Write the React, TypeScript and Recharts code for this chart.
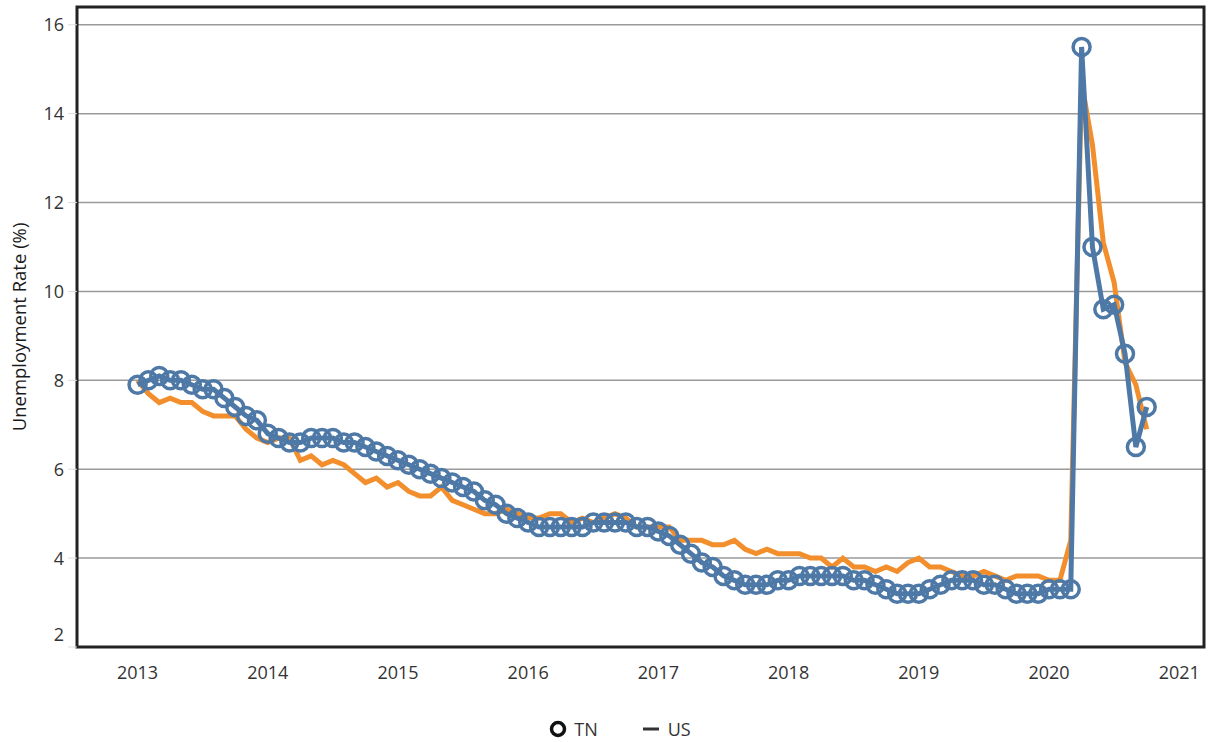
import React from 'react';
import {
  LineChart,
  Line,
  XAxis,
  YAxis,
  CartesianGrid,
  ReferenceArea,
  Legend,
} from 'recharts';

// Monthly unemployment rate (%), Jan 2013 - Oct 2020
const START_YEAR = 2013;

const tnRates = [
  7.9, 8.0, 8.1, 8.0, 8.0, 7.9, 7.8, 7.8, 7.6, 7.4, 7.2, 7.1,
  6.8, 6.7, 6.6, 6.6, 6.7, 6.7, 6.7, 6.6, 6.6, 6.5, 6.4, 6.3,
  6.2, 6.1, 6.0, 5.9, 5.8, 5.7, 5.6, 5.5, 5.3, 5.2, 5.0, 4.9,
  4.8, 4.7, 4.7, 4.7, 4.7, 4.7, 4.8, 4.8, 4.8, 4.8, 4.7, 4.7,
  4.6, 4.5, 4.3, 4.1, 3.9, 3.8, 3.6, 3.5, 3.4, 3.4, 3.4, 3.5,
  3.5, 3.6, 3.6, 3.6, 3.6, 3.6, 3.5, 3.5, 3.4, 3.3, 3.2, 3.2,
  3.2, 3.3, 3.4, 3.5, 3.5, 3.5, 3.4, 3.4, 3.3, 3.2, 3.2, 3.2,
  3.3, 3.3, 3.3, 15.5, 11.0, 9.6, 9.7, 8.6, 6.5, 7.4,
];

const usRates = [
  8.0, 7.7, 7.5, 7.6, 7.5, 7.5, 7.3, 7.2, 7.2, 7.2, 6.9, 6.7,
  6.6, 6.7, 6.7, 6.2, 6.3, 6.1, 6.2, 6.1, 5.9, 5.7, 5.8, 5.6,
  5.7, 5.5, 5.4, 5.4, 5.6, 5.3, 5.2, 5.1, 5.0, 5.0, 5.1, 5.0,
  4.9, 4.9, 5.0, 5.0, 4.8, 4.9, 4.8, 4.9, 5.0, 4.9, 4.7, 4.7,
  4.7, 4.7, 4.4, 4.4, 4.4, 4.3, 4.3, 4.4, 4.2, 4.1, 4.2, 4.1,
  4.1, 4.1, 4.0, 4.0, 3.8, 4.0, 3.8, 3.8, 3.7, 3.8, 3.7, 3.9,
  4.0, 3.8, 3.8, 3.7, 3.6, 3.6, 3.7, 3.6, 3.5, 3.6, 3.6, 3.6,
  3.5, 3.5, 4.4, 14.7, 13.3, 11.1, 10.2, 8.4, 7.9, 6.9,
];

const yearTicks = [2013, 2014, 2015, 2016, 2017, 2018, 2019, 2020, 2021];
const rateTicks = [2, 4, 6, 8, 10, 12, 14, 16];

const X_MIN = 2012.535;
const X_MAX = 2021.19;
const Y_MIN = 2;
const Y_MAX = 16.4;

const TN_BLUE = '#4e79a7';
const US_ORANGE = '#f28e2b';
const FONT = '"Open Sans", "DejaVu Sans", sans-serif';

const data = tnRates.map((tn, i) => ({
  t: START_YEAR + i / 12,
  TN: tn,
  US: usRates[i],
}));

const RateTick = (props: any) => {
  const { x, y, payload } = props;
  // bottom label sits a little above the frame
  const shift = payload.value === Y_MIN ? -12 : 0;
  return (
    <text x={x} y={y + shift} dy="0.355em" textAnchor="end" fill="#333" fontSize={18} fontFamily={FONT}>
      {payload.value}
    </text>
  );
};

const YLabel = (props: any) => {
  const { viewBox } = props;
  const cx = viewBox.x + 18;
  const cy = viewBox.y + viewBox.height / 2;
  return (
    <text
      x={cx}
      y={cy}
      transform={`rotate(-90, ${cx}, ${cy})`}
      textAnchor="middle"
      dominantBaseline="central"
      fill="#1a1a1a"
      fontSize={18.5}
      fontFamily={FONT}
    >
      Unemployment Rate (%)
    </text>
  );
};

const ChartLegend = () => (
  <div
    style={{
      height: 45,
      display: 'flex',
      justifyContent: 'center',
      alignItems: 'center',
      paddingLeft: 36,
      paddingTop: 18,
      boxSizing: 'border-box',
      fontFamily: FONT,
      fontSize: 18,
      color: '#333',
    }}
  >
    <svg width={18} height={18} style={{ marginRight: 7 }}>
      <circle cx={9} cy={9} r={6.5} fill="none" stroke="#111" strokeWidth={3.5} />
    </svg>
    <span style={{ marginRight: 45 }}>TN</span>
    <svg width={16} height={18} style={{ marginRight: 9 }}>
      <line x1={0} y1={9} x2={16} y2={9} stroke="#333" strokeWidth={3} />
    </svg>
    <span>US</span>
  </div>
);

export default function App() {
  return (
    <div style={{ position: 'absolute', left: 0, top: 0, width: 1209, height: 742, background: '#fff' }}>
      <LineChart width={1209} height={742} data={data} margin={{ top: 7, right: 5, bottom: 0, left: 0 }}>
        <CartesianGrid horizontal vertical={false} stroke="#9a9a9a" strokeWidth={1.5} />
        <XAxis
          dataKey="t"
          type="number"
          domain={[X_MIN, X_MAX]}
          ticks={yearTicks}
          allowDataOverflow
          height={50}
          axisLine={false}
          tickLine={false}
          tickSize={0}
          tickMargin={19}
          tick={{ fill: '#333', fontSize: 18, fontFamily: FONT }}
        />
        <YAxis
          type="number"
          domain={[Y_MIN, Y_MAX]}
          ticks={rateTicks}
          allowDataOverflow
          width={77}
          axisLine={false}
          tickLine={{ stroke: '#dddddd' }}
          tickSize={9}
          tickMargin={4}
          tick={<RateTick />}
          label={{ content: <YLabel /> }}
        />
        <Legend verticalAlign="bottom" align="center" content={<ChartLegend />} />
        <ReferenceArea
          x1={X_MIN}
          x2={X_MAX}
          y1={Y_MIN}
          y2={Y_MAX}
          fill="none"
          stroke="#222"
          strokeWidth={3}
          ifOverflow="visible"
        />
        <Line
          type="linear"
          dataKey="US"
          stroke={US_ORANGE}
          strokeWidth={5}
          dot={false}
          activeDot={false}
          isAnimationActive={false}
        />
        <Line
          type="linear"
          dataKey="TN"
          stroke={TN_BLUE}
          strokeWidth={5}
          dot={{ r: 8.5, stroke: TN_BLUE, strokeWidth: 3.5, fill: 'none' }}
          activeDot={false}
          isAnimationActive={false}
        />
      </LineChart>
    </div>
  );
}
